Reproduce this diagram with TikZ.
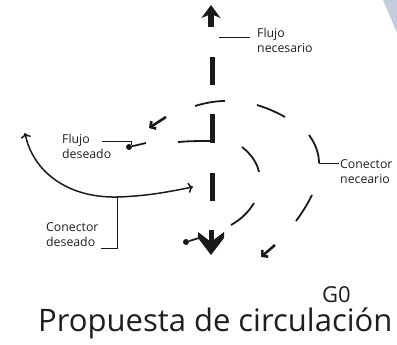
\documentclass[tikz,border=0pt]{standalone}
\usepackage{fontspec}
\setmainfont{Open Sans}
\usetikzlibrary{arrows.meta}
\definecolor{tinta}{HTML}{1A1A1A}
\definecolor{texto}{HTML}{1E1E1E}
\definecolor{azulclaro}{HTML}{C3CDDE}

\begin{document}
\begin{tikzpicture}[x=1pt, y=-1pt,
  every node/.style={font=\fontsize{12.3}{14.8}\selectfont, text=texto, inner sep=0pt},
  etiqueta/.style={align=left},
  guia/.style={draw=tinta, line width=0.9pt},
  conector/.style={draw=tinta, line width=1.8pt},
  flujo/.style={draw=tinta, line width=5pt},
  flechita/.style={draw=tinta, line width=2.6pt, -{Straight Barb[length=4pt,width=9pt]}},
  punto/.style={circle, fill=tinta, minimum size=6pt}]
  \useasboundingbox (0,0) rectangle (397,345);
  \fill[azulclaro] (383,0) -- (397,0) -- (397,33) -- cycle;

  % flujo necesario (vertical)
  \draw[flujo, line width=5.5pt, -{Stealth[length=13pt,width=19pt,inset=4pt]}] (211,27) -- (211,5);
  \foreach \ya/\yb in {57/85, 114/143, 173/201} {\draw[flujo] (212,\ya) -- (212,\yb);}
  \draw[line width=5pt, tinta] (211,230) -- (211,244);
  \fill[tinta] (198,232) -- (211,242) -- (224,232) -- (224,238) -- (211,255) -- (198,238) -- cycle;

  % conector necesario, arco exterior
  \draw[conector] (195,106) .. controls (205,103) and (215,101) .. (225,101);
  \draw[conector] (257,105) .. controls (267,108) and (276,112) .. (285,117);
  \draw[conector] (309,135) .. controls (315,143) and (319,153) .. (319,163);
  \draw[conector] (312,195) .. controls (307,205) and (302,213) .. (296,221);
  \draw[flechita] (275,245) -- (261,257);
  \draw[flechita] (166,117) -- (149,128);

  % arco interior
  \draw[conector] (178,142) .. controls (190,141) and (200,141) .. (212,141);
  \draw[conector] (242,147) .. controls (252,155) and (257,163) .. (259,172);
  \draw[conector] (254,203) .. controls (248,213) and (240,220) .. (231,225);
  \node[punto] (pDes) at (129,147) {};
  \draw[conector] (pDes) -- (146,143);
  \node[punto] (pBajo) at (186,242) {};
  \draw[conector] (pBajo) -- (199,238);

  % conector deseado
  \coordinate (cdIni) at (25,133);
  \coordinate (cdPie) at (117,197);
  \coordinate (cdFin) at (193,187);
  \draw[conector, line width=1.5pt, <->] (cdIni) .. controls (33,172) and (68,198) .. (cdPie)
    .. controls (150,196) and (172,191) .. (cdFin);

  % etiquetas
  \node[etiqueta, anchor=west] (lblNec) at (257,40) {Flujo\\necesario};
  \node[etiqueta, anchor=west] (lblDes) at (62,146) {Flujo\\deseado};
  \node[etiqueta, anchor=west] (lblConDes) at (46,235) {Conector\\deseado};
  \node[etiqueta, anchor=west] (lblConNec) at (340,172) {Conector\\neceario};
  \coordinate (nNec) at (219,37);
  \draw[guia] (nNec) -- ([xshift=-7pt]nNec -| lblNec.west);
  \coordinate (nDes) at (102,141);
  \draw[guia] (nDes) -| (pDes.north east);
  \coordinate (cdEsq) at (101,248);
  \draw[guia] (cdPie) |- (cdEsq);
  \coordinate (cnPie) at (319,163);
  \draw[guia] (cnPie) -- ([xshift=-1pt]cnPie -| lblConNec.west);

  \node[anchor=base west, font=\fontsize{22}{25}\selectfont] (codigo) at (322,302) {G0};
  \node[anchor=base west, font=\fontsize{31}{34}\selectfont] (titulo) at (38,331.5) {Propuesta de circulación};
\end{tikzpicture}
\end{document}
